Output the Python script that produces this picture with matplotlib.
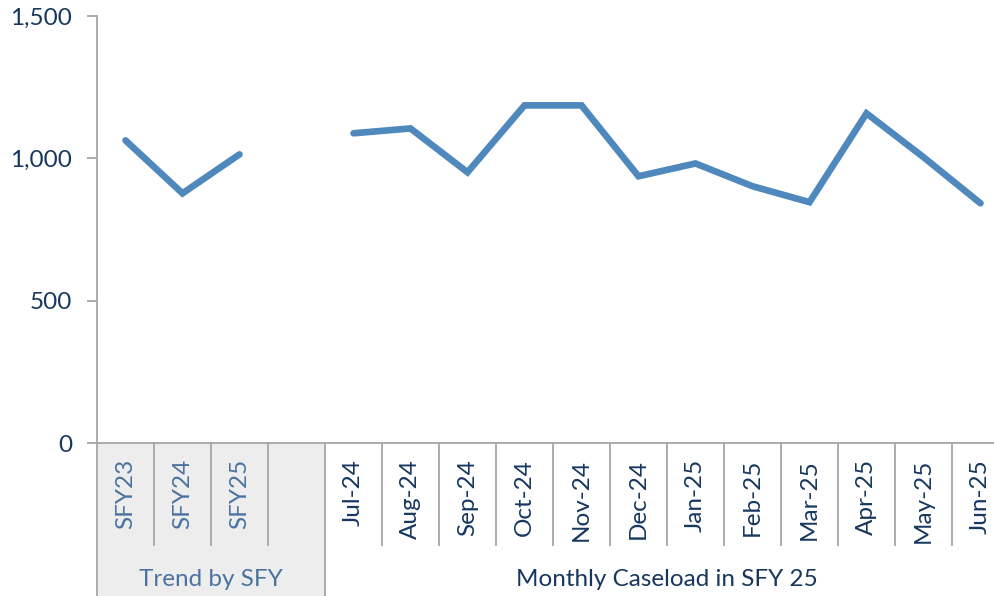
import matplotlib
matplotlib.use("Agg")
import matplotlib.pyplot as plt
import matplotlib.transforms as mtransforms
from matplotlib.patches import Rectangle
import numpy as np

# ---- data ----
sfy_labels = ["SFY23", "SFY24", "SFY25"]
sfy_values = [1063, 877, 1014]
month_labels = ["Jul-24", "Aug-24", "Sep-24", "Oct-24", "Nov-24", "Dec-24",
                "Jan-25", "Feb-25", "Mar-25", "Apr-25", "May-25", "Jun-25"]
month_values = [1088, 1105, 951, 1186, 1186, 937, 982, 902, 846, 1158, 1004, 842]
group_labels = ["Trend by SFY", "Monthly Caseload in SFY 25"]
y_ticks = [0, 500, 1000, 1500]

plt.rcParams['font.family'] = ['Lato', 'DejaVu Sans']

W, H = 995, 596
fig = plt.figure(figsize=(W / 100, H / 100), dpi=100)

def fx(px):
    return px / W

def fy(py):
    return (H - py) / H

left, right, top, bottom = 97, 1009, 16, 443
ax = fig.add_axes([fx(left), fy(bottom), fx(right) - fx(left), fy(top) - fy(bottom)])

n_sfy = len(sfy_labels)
gap = 1
x_sfy = np.arange(n_sfy)
x_month = np.arange(len(month_labels)) + n_sfy + gap
n_total = n_sfy + gap + len(month_labels)

line_color = "#4F88BD"
ax.plot(x_sfy, sfy_values, color=line_color, lw=4.8, solid_capstyle="round", solid_joinstyle="miter")
ax.plot(x_month, month_values, color=line_color, lw=4.8, solid_capstyle="round", solid_joinstyle="miter")

ax.set_xlim(-0.5, n_total - 0.5)
ax.set_ylim(0, 1500)
ax.set_yticks(y_ticks)
ax.set_yticklabels([f"{v:,}" for v in y_ticks])
ax.set_xticks([])
grey = "#A6A6A6"
for s in ["top", "right"]:
    ax.spines[s].set_visible(False)
ax.spines["left"].set_color(grey)
ax.spines["bottom"].set_color(grey)
ax.spines["left"].set_linewidth(1.3)
ax.spines["bottom"].set_linewidth(1.3)
ax.tick_params(axis="y", length=7, width=1.3, color=grey, pad=11,
               labelsize=17.5, labelcolor="#17375E")

# ---- category area below the axis ----
trans = mtransforms.blended_transform_factory(ax.transData, fig.transFigure)
y_axis = fy(bottom)
y_sep = fy(545)

# shaded group
ax.add_patch(Rectangle((-0.5, 0), n_sfy + gap, y_axis, transform=trans,
                       facecolor="#EDEDED", edgecolor="none", clip_on=False, zorder=0))

for k in range(n_total - 1):
    xb = k + 0.5
    if xb == n_sfy + gap - 0.5:
        y0 = 0
    else:
        y0 = y_sep
    ax.plot([xb, xb], [y0, y_axis], transform=trans, color=grey, lw=1.3, clip_on=False)
ax.plot([-0.5, -0.5], [0, y_axis], transform=trans, color=grey, lw=1.3, clip_on=False)

label_top = fy(459)
for i, lab in enumerate(sfy_labels):
    ax.text(x_sfy[i], label_top, lab, transform=trans, rotation=90, ha="center",
            va="top", fontsize=17.5, color="#4A73A0")
for i, lab in enumerate(month_labels):
    ax.text(x_month[i], label_top, lab, transform=trans, rotation=90, ha="center",
            va="top", fontsize=17.5, color="#17375E")

y_group = fy(580)
ax.text((-0.5 + n_sfy + gap - 0.5) / 2, y_group, group_labels[0], transform=trans,
        ha="center", va="center", fontsize=17.5, color="#4A73A0")
ax.text((n_sfy + gap - 0.5 + n_total - 0.5) / 2, y_group, group_labels[1], transform=trans,
        ha="center", va="center", fontsize=17.5, color="#17375E")

fig.savefig("out.png", dpi=100)
